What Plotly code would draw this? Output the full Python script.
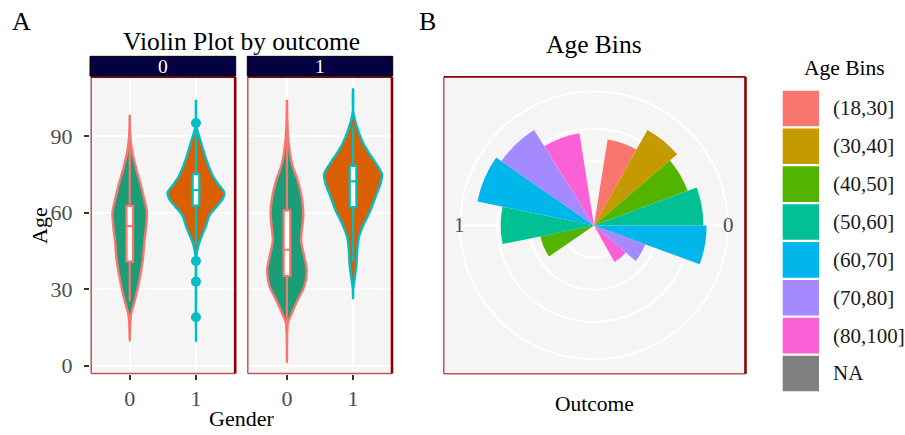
import plotly.graph_objects as go

W, H = 905, 435
FONT = "Liberation Serif"

# ---------------- Panel A: violin profiles (age, half-width in category units) ----------------
f0_g0_age = [9.7, 14.9, 20.1, 24.0, 29.1, 35.6, 42.1, 48.6, 55.0, 60.2, 64.1, 70.6, 77.0, 83.6, 87.0, 92.0, 98.4]
f0_g0_wid = [0.0, 0.005, 0.02, 0.06, 0.11, 0.16, 0.20, 0.22, 0.25, 0.26, 0.23, 0.17, 0.10, 0.04, 0.02, 0.005, 0.0]

f0_g1_age = [9.7, 20.0, 35.0, 43.4, 47.3, 51.2, 55.0, 59.0, 62.2, 65.4, 68.0, 70.6, 74.5, 81.0, 87.4, 92.6, 95.0, 104.3]
f0_g1_wid = [0.0, 0.002, 0.002, 0.008, 0.038, 0.093, 0.153, 0.203, 0.303, 0.404, 0.428, 0.353, 0.254, 0.153, 0.078, 0.018, 0.002, 0.0]

f1_g0_age = [1.3, 10.0, 16.8, 20.7, 25.9, 31.1, 37.6, 42.7, 49.2, 54.4, 59.6, 66.0, 72.5, 79.0, 89.4, 104.3]
f1_g0_wid = [0.0, 0.002, 0.014, 0.074, 0.164, 0.263, 0.299, 0.263, 0.213, 0.231, 0.248, 0.224, 0.164, 0.078, 0.018, 0.0]

f1_g1_age = [26.5, 29.8, 35.0, 40.1, 45.3, 50.5, 55.7, 60.9, 66.1, 71.2, 75.1, 77.7, 81.6, 86.8, 93.3, 99.8, 108.8]
f1_g1_wid = [0.0, 0.002, 0.029, 0.053, 0.063, 0.089, 0.164, 0.263, 0.338, 0.413, 0.438, 0.389, 0.288, 0.164, 0.063, 0.003, 0.0]

# box statistics: lower whisker, q1, median, q3, upper whisker
f0_g0_box = [25.3, 40.8, 54.8, 62.7, 86.8]
f0_g1_box = [47.3, 62.8, 68.9, 75.1, 92.6]
f1_g0_box = [13.0, 35.2, 45.5, 60.9, 92.0]
f1_g1_box = [40.8, 62.2, 72.3, 78.4, 94.0]
f0_g1_outliers = [95.2, 41.1, 33.0, 19.0]

gender_ticks = ["0", "1"]
age_ticks = [0, 30, 60, 90]
violin_fill = ["#1B9E77", "#D95F02"]
violin_line = ["#F8766D", "#00BFC4"]

# ---------------- Panel B: counts per age bin and outcome ----------------
age_bins = ["(18,30]", "(30,40]", "(40,50]", "(50,60]", "(60,70]", "(70,80]", "(80,100]", "NA"]
bin_colors = ["#F8766D", "#C49A00", "#53B400", "#00C094", "#00B6EB", "#A58AFF", "#FB61D7", "#7F7F7F"]
outcomes = ["0", "1"]
counts_outcome0 = [27, 34, 31, 34, 35, 17, 13, 0]
counts_outcome1 = [0, 0, 17, 29, 37, 35, 29]


def px_x(x):
    return x / W


def px_y(y):
    return 1 - y / H


fig = go.Figure()

# violins on the base axes, boxes + outliers on overlay axes so they sit on top
facets = [
    ("x", "y", "x3", "y3", [(f0_g0_age, f0_g0_wid, f0_g0_box, []), (f0_g1_age, f0_g1_wid, f0_g1_box, f0_g1_outliers)]),
    ("x2", "y2", "x4", "y4", [(f1_g0_age, f1_g0_wid, f1_g0_box, []), (f1_g1_age, f1_g1_wid, f1_g1_box, [])]),
]
for xa, ya, xo, yo, groups in facets:
    for g, (ages, wid, box, outl) in enumerate(groups):
        xs = [g + w for w in wid] + [g - w for w in reversed(wid)]
        ys = list(ages) + list(reversed(ages))
        fig.add_trace(go.Scatter(
            x=xs, y=ys, xaxis=xa, yaxis=ya, mode="lines", fill="toself",
            fillcolor=violin_fill[g], line=dict(color=violin_line[g], width=2.4, shape="spline", smoothing=0.8),
            hoverinfo="skip", showlegend=False))
        fig.add_trace(go.Box(
            x=[g], lowerfence=[box[0]], q1=[box[1]], median=[box[2]], q3=[box[3]], upperfence=[box[4]],
            orientation="v", xaxis=xo, yaxis=yo, width=0.1, whiskerwidth=0, fillcolor="white",
            line=dict(color=violin_line[g], width=2.2), boxpoints=False, showlegend=False))
        if outl:
            fig.add_trace(go.Scatter(
                x=[g] * len(outl), y=outl, xaxis=xo, yaxis=yo, mode="markers",
                marker=dict(color=violin_line[g], size=10), showlegend=False))

# polar bars, dodged within each outcome's half of the circle
count_sets = [counts_outcome0, counts_outcome1]
R_MAX = max(max(c) for c in count_sets)
for k, (lab, col) in enumerate(zip(age_bins, bin_colors)):
    th, rr, ww = [], [], []
    for j, cnt in enumerate(count_sets):
        n = len(cnt)
        if k >= n:
            continue
        xpos = (j + 1) + (k - (n - 1) / 2) * 0.9 / n
        th.append((xpos - 0.5) * 180)
        rr.append(cnt[k])
        ww.append(0.9 / n * 180)
    fig.add_trace(go.Barpolar(theta=th, r=rr, width=ww, name=lab,
                              marker=dict(color=col, line=dict(width=0)), showlegend=False))

# ---------------- layout ----------------
axis_font = dict(family=FONT, size=22, color="#4D4D4D")
y_dom = [px_y(378), px_y(77.5)]
x_range = [-0.6, 1.6]
y_range = [-3.1, 113.4]
common_x = dict(range=x_range, tickvals=[0, 1], ticktext=gender_ticks, showgrid=True,
                gridcolor="white", gridwidth=1.8, zeroline=False, ticks="outside", ticklen=5,
                tickwidth=1.5, tickcolor="#333333", tickfont=axis_font, showline=False)
common_y = dict(range=y_range, tickvals=age_ticks, showgrid=True, gridcolor="white",
                gridwidth=1.8, zeroline=False, showline=False, domain=y_dom)
overlay_x = dict(range=x_range, visible=False, showgrid=False, zeroline=False)
overlay_y = dict(range=y_range, visible=False, showgrid=False, zeroline=False)

cx, cy, rad = 594.0, 228.0, 135.5

fig.update_layout(
    width=W, height=H, margin=dict(l=0, r=0, t=0, b=0),
    paper_bgcolor="white", plot_bgcolor="#F5F5F5", boxmode="overlay",
    showlegend=False, font=dict(family=FONT),
    xaxis=dict(domain=[px_x(90), px_x(235.7)], anchor="y", **common_x),
    xaxis2=dict(domain=[px_x(247.3), px_x(392.7)], anchor="y2", **common_x),
    yaxis=dict(anchor="x", ticks="outside", ticklen=5, tickwidth=1.5, tickcolor="#333333",
               tickfont=axis_font, ticklabelstandoff=7, **common_y),
    yaxis2=dict(anchor="x2", showticklabels=False, ticks="", **common_y),
    xaxis3=dict(overlaying="x", anchor="y3", **overlay_x),
    yaxis3=dict(overlaying="y", anchor="x3", **overlay_y),
    xaxis4=dict(overlaying="x2", anchor="y4", **overlay_x),
    yaxis4=dict(overlaying="y2", anchor="x4", **overlay_y),
    polar=dict(
        domain=dict(x=[px_x(cx - rad), px_x(cx + rad)], y=[px_y(cy + rad), px_y(cy - rad)]),
        bgcolor="rgba(0,0,0,0)",
        radialaxis=dict(range=[0, R_MAX / 0.4 * 0.45], tickvals=[10, 20, 30], showticklabels=False,
                        ticks="", showline=False, gridcolor="white", gridwidth=1.8),
        angularaxis=dict(rotation=90, direction="clockwise", tickvals=[90, 270], showticklabels=False,
                         ticks="", gridcolor="white", gridwidth=1.8, linecolor="white", linewidth=1.8),
    ),
)

shapes = []
# panel B background
shapes.append(dict(type="rect", xref="paper", yref="paper", layer="below",
                   x0=px_x(443.3), x1=px_x(745.5), y0=px_y(378.3), y1=px_y(77.3),
                   fillcolor="#F5F5F5", line=dict(width=0)))


def border(x0, x1, y0, y1):
    out = []
    light, dark = "#B85858", "#8B0000"
    out.append(dict(type="line", xref="paper", yref="paper", x0=px_x(x0), x1=px_x(x0),
                    y0=px_y(y1), y1=px_y(y0), line=dict(color=light, width=1.5)))
    out.append(dict(type="line", xref="paper", yref="paper", x0=px_x(x0), x1=px_x(x1),
                    y0=px_y(y1), y1=px_y(y1), line=dict(color=light, width=1.5)))
    out.append(dict(type="line", xref="paper", yref="paper", x0=px_x(x0), x1=px_x(x1),
                    y0=px_y(y0), y1=px_y(y0), line=dict(color=dark, width=1.6)))
    out.append(dict(type="line", xref="paper", yref="paper", x0=px_x(x1), x1=px_x(x1),
                    y0=px_y(y1), y1=px_y(y0), line=dict(color=dark, width=2.6)))
    return out


shapes += border(91.2, 235.2, 78.0, 377.8)
shapes += border(247.8, 392.0, 78.0, 377.8)
shapes += border(443.8, 745.5, 77.8, 378.0)

# facet strips
annotations = []
for lab, (sx0, sx1) in zip(outcomes, [(90, 235.7), (247.3, 392.7)]):
    shapes.append(dict(type="rect", xref="paper", yref="paper", x0=px_x(sx0), x1=px_x(sx1),
                       y0=px_y(77), y1=px_y(57), fillcolor="#05003F", line=dict(color="#000000", width=1)))
    annotations.append(dict(text=lab, x=px_x((sx0 + sx1) / 2), y=px_y(67.5), xref="paper", yref="paper",
                            showarrow=False, xanchor="center", yanchor="middle",
                            font=dict(family=FONT, size=19.5, color="white")))

# legend for age bins
key_x0, key_x1 = 782.7, 819.0
for i, (lab, col) in enumerate(zip(age_bins, bin_colors)):
    top = 91.7 + i * 38.3
    shapes.append(dict(type="rect", xref="paper", yref="paper", x0=px_x(key_x0), x1=px_x(key_x1),
                       y0=px_y(top + 36), y1=px_y(top), fillcolor=col, line=dict(width=0)))
    annotations.append(dict(text=lab, x=px_x(831), y=px_y(top + 18), xref="paper", yref="paper",
                            showarrow=False, xanchor="left", yanchor="middle",
                            font=dict(family=FONT, size=21, color="#1A1A1A")))


def label(text, x, y, size, color="black", angle=0):
    annotations.append(dict(text=text, x=px_x(x), y=px_y(y), xref="paper", yref="paper",
                            showarrow=False, xanchor="center", yanchor="middle", textangle=angle,
                            font=dict(family=FONT, size=size, color=color)))


label("A", 21.2, 22, 26)
label("B", 427, 22, 26)
label("Violin Plot by outcome", 241.7, 42, 25.5)
label("Age Bins", 594, 45, 25.5)
label("Age", 39.3, 228.3, 22, angle=-90)
label("Gender", 241.3, 423, 22)
label("Outcome", 594, 409, 21.5)
label("Age Bins", 844, 69, 21.5)
label(outcomes[0], cx + rad - 1, cy, 21, "#4D4D4D")
label(outcomes[1], cx - rad + 0.5, cy, 21, "#4D4D4D")

fig.update_layout(shapes=shapes, annotations=annotations)
fig.write_html("out.html")
